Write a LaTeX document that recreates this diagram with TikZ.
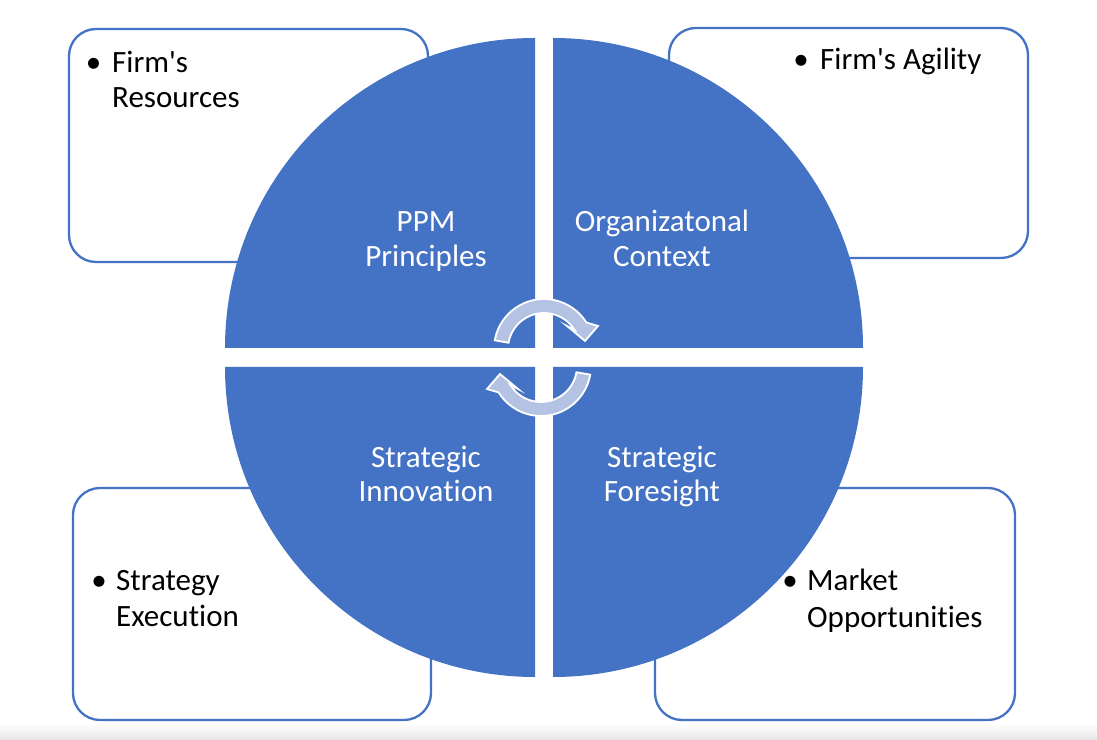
\documentclass[tikz,border=0pt]{standalone}
\usepackage{fontspec}
\newfontfamily\carl{Carlito}[Ligatures={NoCommon}]
\definecolor{offblue}{HTML}{4472C4}
\definecolor{arrowfill}{HTML}{B4C2E3}
\newcommand\cyclearrowpath{(494.76,398.68) arc[start angle=170,end angle=32,radius=50] -- (598,413) -- (585,398) -- (567,413) -- (574.53,409.08) arc[start angle=32,end angle=170,radius=36] -- cycle}
\begin{document}
\begin{tikzpicture}[x=1pt,y=1pt,
  boxst/.style={draw=offblue,line width=2.3pt,rounded corners=27pt,fill=white},
  quarter/.style={fill=offblue},
  cyc/.style={fill=arrowfill,draw=white,line width=1.8pt,line join=miter},
  btext/.style={font=\carl\fontsize{31}{35}\selectfont,text=black,inner sep=0pt,anchor=base west},
  bdot/.style={font=\carl\fontsize{31}{35}\selectfont,text=black,inner sep=0pt,anchor=base},
  ctext/.style={font=\carl\fontsize{31}{35}\selectfont,text=white,inner sep=0pt,anchor=base}]
\useasboundingbox (0,0) rectangle (1097,739);
\fill[white] (0,0) rectangle (1097,739);
\shade[top color=white,bottom color=black!9] (0,0) rectangle (1097,16);
% side boxes
\draw[boxst] (69,477) rectangle (428,710);
\draw[boxst] (669,481) rectangle (1028,711);
\draw[boxst] (73,19) rectangle (431,251);
\draw[boxst] (655,19) rectangle (1015,251);
% quarters
\fill[quarter] (535,391) -- (225,391) arc[start angle=180,end angle=90,radius=310] -- cycle;
\fill[quarter] (553,391) -- (553,701) arc[start angle=90,end angle=0,radius=310] -- cycle;
\fill[quarter] (535,372) -- (225,372) arc[start angle=180,end angle=270,radius=310] -- cycle;
\fill[quarter] (553,372) -- (863,372) arc[start angle=0,end angle=-90,radius=310] -- cycle;
% cycle arrows
\draw[cyc] \cyclearrowpath;
\begin{scope}[rotate around={180:(542.5,381.5)}]
\draw[cyc] \cyclearrowpath;
\end{scope}
% centre labels
\node[ctext] (ppm1) at (426,507) {PPM};
\node[ctext] (ppm2) at (426,472) {Principles};
\node[ctext] (org1) at (662,507) {Organizatonal};
\node[ctext] (org2) at (662,472) {Context};
\node[ctext] (inn1) at (426,271) {Strategic};
\node[ctext] (inn2) at (426,237) {Innovation};
\node[ctext] (for1) at (662,271) {Strategic};
\node[ctext] (for2) at (662,237) {Foresight};
% bullet texts
\node[bdot] (tlb) at (93.5,666) {•};
\node[btext] (tl1) at (112,666) {Firm's};
\node[btext] (tl2) at (112,631) {Resources};
\node[bdot] (trb) at (801,669) {•};
\node[btext] (tr1) at (820,669) {Firm's Agility};
\node[bdot] (blb) at (99,148) {•};
\node[btext] (bl1) at (116,148) {Strategy};
\node[btext] (bl2) at (116,113) {Execution};
\node[bdot] (brb) at (790,148) {•};
\node[btext] (br1) at (807,148) {Market};
\node[btext] (br2) at (807,112) {Opportunities};
\end{tikzpicture}
\end{document}
